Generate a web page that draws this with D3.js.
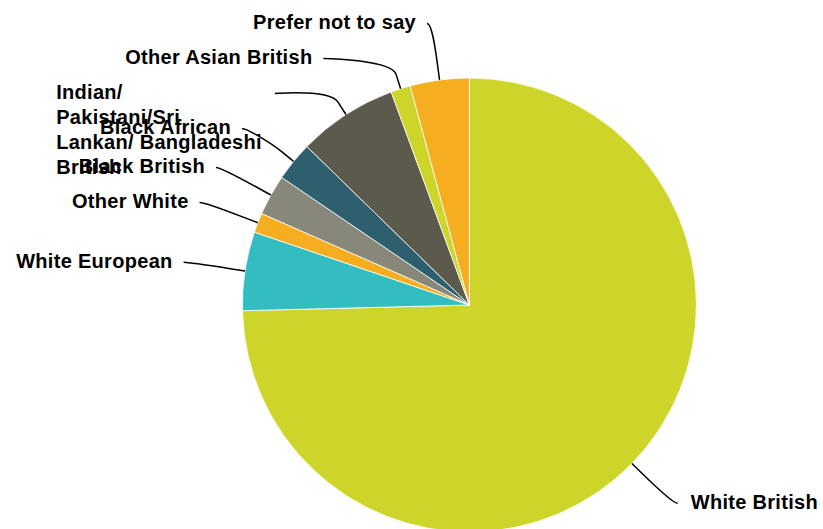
<!DOCTYPE html>
<html>
<head>
<meta charset="utf-8">
<script src="https://cdn.jsdelivr.net/npm/d3@7"></script>
<style>
  html, body { margin: 0; padding: 0; background: #ffffff; }
  svg { display: block; }
  text { font-family: "Liberation Sans", Arial, Helvetica, sans-serif; font-weight: bold; font-size: 20px; letter-spacing: 0.3px; fill: #000; }
</style>
</head>
<body>
<svg id="chart" width="823" height="529"></svg>
<script>
// ---- data (percent share) ----
const categories = [
  "White British",
  "White European",
  "Other White",
  "Black British",
  "Black African",
  "Indian/\nPakistani/Sri\nLankan/ Bangladeshi\nBritish",
  "Other Asian British",
  "Prefer not to say"
];
const values = [74.6, 5.6, 1.4, 2.9, 2.8, 7.1, 1.4, 4.2];
const sliceColors = ["#CED52A", "#33BDC0", "#F5AE20", "#87887A", "#2D5F6E", "#5C5A4C", "#CED52A", "#F5AE20"];

// ---- layout ----
const W = 823, H = 529;
const cx = 469.4, cy = 305, r = 227;
const labelR = 284, breakR = r + 15, pad = 5, slot = 35, lineH = 24.7;

const svg = d3.select("#chart");
const data = categories.map((c, i) => ({ name: c, value: values[i], idx: i }));

const pie = d3.pie().value(d => d.value).sort(null);
const arcs = pie(data);
const arcGen = d3.arc().innerRadius(0).outerRadius(r);
const color = d3.scaleOrdinal().domain(categories).range(sliceColors);

const g = svg.append("g").attr("transform", `translate(${cx},${cy})`);
g.selectAll("path.slice")
  .data(arcs)
  .join("path")
  .attr("class", "slice")
  .attr("d", arcGen)
  .attr("fill", d => color(d.data.name))
  .attr("stroke", "#ffffff")
  .attr("stroke-width", 0.8)
  .attr("stroke-linejoin", "round");

// label positions (natural position on outer circle, then de-overlap per side)
const labels = arcs.map(a => {
  const mid = (a.startAngle + a.endAngle) / 2;
  const sin = Math.sin(mid), cos = Math.cos(mid);
  return {
    arc: a, mid,
    left: sin < 0,
    ny: cy - labelR * cos,
    touch: [cx + r * sin, cy - r * cos],
    brk: [cx + breakR * sin, cy - breakR * cos]
  };
});
["left", "right"].forEach(side => {
  const grp = labels.filter(l => (side === "left") === l.left).sort((a, b) => a.ny - b.ny);
  let prev = -Infinity;
  grp.forEach(l => {
    l.y = Math.max(l.ny, prev + slot);
    prev = l.y;
  });
});
labels.forEach(l => {
  const dy = Math.max(-labelR, Math.min(labelR, l.y - cy));
  const dx = Math.sqrt(labelR * labelR - dy * dy) + pad;
  l.x = l.left ? cx - dx : cx + dx;
});

// connectors
svg.append("g").selectAll("path.conn")
  .data(labels)
  .join("path")
  .attr("class", "conn")
  .attr("fill", "none")
  .attr("stroke", "#000")
  .attr("stroke-width", 1.5)
  .attr("d", l => {
    const p = d3.path();
    p.moveTo(l.x, l.y);
    p.bezierCurveTo(
      l.x + (l.left ? 5 : -5), l.y,
      2 * l.brk[0] - l.touch[0], 2 * l.brk[1] - l.touch[1],
      l.brk[0], l.brk[1]);
    p.lineTo(l.touch[0], l.touch[1]);
    return p.toString();
  });

// label texts
const tg = svg.append("g");
labels.forEach(l => {
  const lines = l.arc.data.name.split("\n");
  const t = tg.append("text").attr("y", l.y + 6);
  if (lines.length === 1) {
    t.attr("x", l.left ? l.x - 11 : l.x + 13)
     .attr("text-anchor", l.left ? "end" : "start")
     .text(lines[0]);
  } else {
    const spans = lines.map((s, i) => t.append("tspan")
      .attr("dy", i === 0 ? 0 : lineH)
      .text(s));
    const maxW = d3.max(spans, s => s.node().getComputedTextLength());
    const x0 = l.left ? l.x - 13 - maxW : l.x + 13;
    spans.forEach(s => s.attr("x", x0));
  }
});
</script>
</body>
</html>
